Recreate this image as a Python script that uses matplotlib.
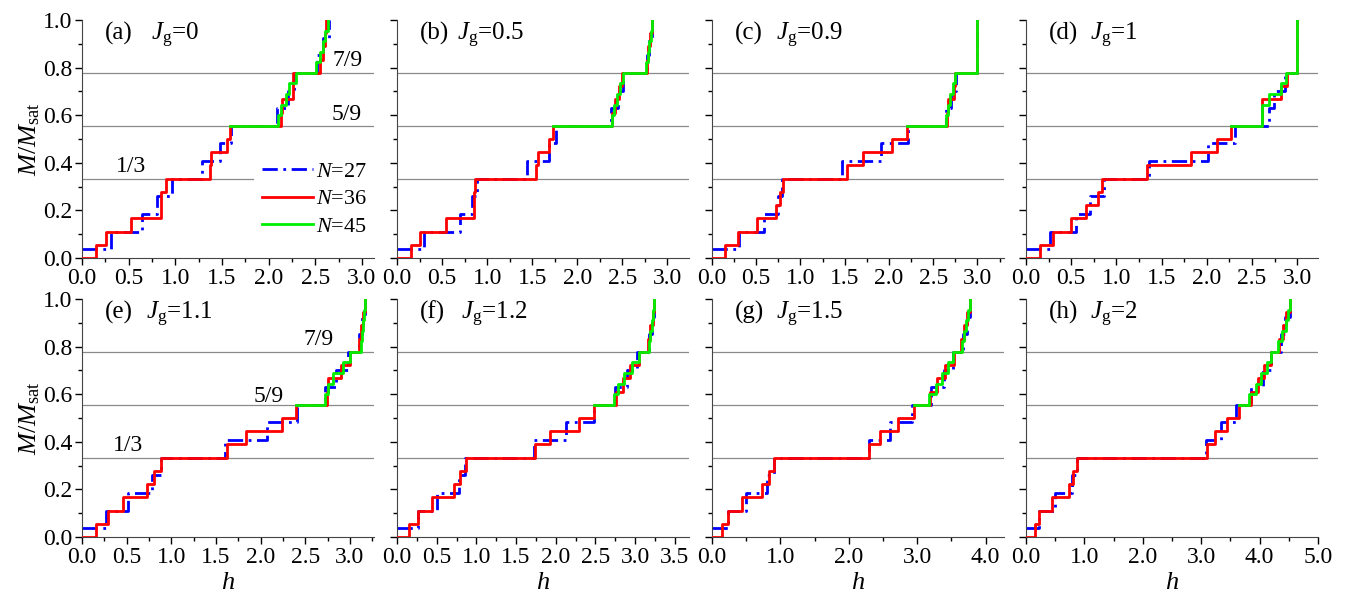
import numpy as np
import matplotlib
matplotlib.use("Agg")
import matplotlib.pyplot as plt
from matplotlib.ticker import MultipleLocator, FormatStrFormatter

plt.rcParams['font.family'] = ['Liberation Serif', 'DejaVu Serif']
plt.rcParams['mathtext.fontset'] = 'custom'
plt.rcParams['mathtext.rm'] = 'Liberation Serif'
plt.rcParams['mathtext.it'] = 'Liberation Serif:italic'
plt.rcParams['font.size'] = 17

# magnetization levels M/Msat for each cluster size
m27 = [1/27, 3/27, 5/27, 7/27, 9/27, 11/27, 13/27, 15/27, 17/27, 19/27, 21/27, 23/27, 25/27, 1.0]
m36 = [0, 1/18, 2/18, 3/18, 4/18, 5/18, 6/18, 7/18, 8/18, 9/18, 10/18, 11/18, 12/18,
       13/18, 14/18, 15/18, 16/18, 17/18, 1.0]
m45 = [25/45, 27/45, 29/45, 31/45, 33/45, 35/45, 37/45, 39/45, 41/45, 43/45, 1.0]

# fields h at which M jumps to the next level
h27_a = [0.31, 0.64, 0.80, 0.965, 1.29, 1.48, 1.60, 2.09, 2.21, 2.27, 2.52, 2.58, 2.65]
h36_a = [0.15, 0.26, 0.53, 0.85, 0.85, 0.90, 1.37, 1.385, 1.556, 1.585, 2.13, 2.14,
         2.26, 2.26, 2.55, 2.58, 2.60, 2.62]
h45_a = [1.59, 2.10, 2.13, 2.19, 2.22, 2.29, 2.51, 2.55, 2.58, 2.61, 2.64]

h27_b = [0.30, 0.70, 0.83, 0.89, 1.44, 1.69, 1.76, 2.37, 2.45, 2.51, 2.77, 2.80, 2.83]
h36_b = [0.15, 0.26, 0.54, 0.85, 0.85, 0.87, 1.54, 1.57, 1.69, 1.73, 2.39, 2.42,
         2.46, 2.50, 2.77, 2.79, 2.81, 2.83]
h45_b = [1.73, 2.39, 2.41, 2.44, 2.47, 2.51, 2.76, 2.78, 2.80, 2.82, 2.83]

h27_c = [0.30, 0.59, 0.75, 0.79, 1.47, 1.91, 2.22, 2.65, 2.70, 2.76, 3.0, 3.0, 3.0]
h36_c = [0.15, 0.29, 0.51, 0.72, 0.77, 0.80, 1.53, 1.71, 2.03, 2.20, 2.66, 2.67,
         2.73, 2.75, 3.0, 3.0, 3.0, 3.0]
h45_c = [2.20, 2.64, 2.67, 2.69, 2.72, 2.75, 3.0, 3.0, 3.0, 3.0, 3.0]

h27_d = [0.27, 0.55, 0.71, 0.86, 1.36, 2.01, 2.31, 2.69, 2.74, 2.86, 3.0, 3.0, 3.0]
h36_d = [0.16, 0.30, 0.50, 0.66, 0.80, 0.84, 1.34, 1.83, 2.11, 2.27, 2.61, 2.61,
         2.82, 2.89, 3.0, 3.0, 3.0, 3.0]
h45_d = [2.27, 2.61, 2.61, 2.69, 2.82, 2.88, 3.0, 3.0, 3.0, 3.0, 3.0]

h27_e = [0.27, 0.52, 0.78, 0.88, 1.60, 2.07, 2.41, 2.72, 2.85, 2.98, 3.10, 3.14, 3.17]
h36_e = [0.16, 0.29, 0.46, 0.73, 0.81, 0.88, 1.62, 1.84, 2.24, 2.40, 2.74, 2.76,
         2.90, 3.0, 3.10, 3.13, 3.15, 3.17]
h45_e = [2.40, 2.72, 2.76, 2.81, 2.92, 3.0, 3.12, 3.14, 3.15, 3.16, 3.17]

h27_f = [0.26, 0.50, 0.78, 0.86, 1.73, 2.13, 2.48, 2.75, 2.90, 3.03, 3.18, 3.21, 3.24]
h36_f = [0.15, 0.27, 0.44, 0.72, 0.80, 0.87, 1.74, 1.93, 2.29, 2.48, 2.76, 2.85,
         2.94, 3.05, 3.16, 3.19, 3.22, 3.24]
h45_f = [2.48, 2.73, 2.79, 2.86, 2.96, 3.05, 3.17, 3.19, 3.21, 3.23, 3.24]

h27_g = [0.24, 0.49, 0.80, 0.90, 2.29, 2.60, 2.93, 3.20, 3.39, 3.52, 3.67, 3.73, 3.78]
h36_g = [0.15, 0.24, 0.44, 0.73, 0.83, 0.90, 2.30, 2.45, 2.72, 2.95, 3.19, 3.29,
         3.41, 3.54, 3.64, 3.69, 3.73, 3.78]
h45_g = [2.95, 3.17, 3.27, 3.36, 3.45, 3.53, 3.65, 3.69, 3.72, 3.75, 3.78]

h27_h = [0.23, 0.50, 0.79, 0.88, 3.09, 3.34, 3.60, 3.86, 4.05, 4.20, 4.36, 4.44, 4.52]
h36_h = [0.15, 0.23, 0.44, 0.73, 0.81, 0.87, 3.10, 3.23, 3.45, 3.65, 3.85, 3.97,
         4.08, 4.20, 4.33, 4.40, 4.46, 4.52]
h45_h = [3.65, 3.82, 3.94, 4.03, 4.12, 4.20, 4.32, 4.39, 4.45, 4.49, 4.52]

panel_tags = ['(a)', '(b)', '(c)', '(d)', '(e)', '(f)', '(g)', '(h)']
jg_labels = ['0', '0.5', '0.9', '1', '1.1', '1.2', '1.5', '2']
xmax = [3.13, 3.24, 3.30, 3.23, 3.27, 3.68, 4.27, 5.0]
xmajor = [0.5, 0.5, 0.5, 0.5, 0.5, 0.5, 1.0, 1.0]
plateaus = [1/3, 5/9, 7/9]

h27 = [h27_a, h27_b, h27_c, h27_d, h27_e, h27_f, h27_g, h27_h]
h36 = [h36_a, h36_b, h36_c, h36_d, h36_e, h36_f, h36_g, h36_h]
h45 = [h45_a, h45_b, h45_c, h45_d, h45_e, h45_f, h45_g, h45_h]

W, H = 1350, 597
fig = plt.figure(figsize=(W / 100, H / 100), dpi=100)
lefts = [82, 397, 712, 1026]
tops = [20, 299]
aw, ah = 292, 238

for i in range(8):
    row, col = divmod(i, 4)
    ax = fig.add_axes([lefts[col] / W, 1 - (tops[row] + ah) / H, aw / W, ah / H])

    for y in plateaus:
        if i == 0 and y == 1/3:
            ax.axhline(y, xmax=0.585, color='#8a8a8a', lw=0.9, zorder=1)
        else:
            ax.axhline(y, color='#8a8a8a', lw=0.9, zorder=1)

    ax.plot([0] + h27[i], m27, drawstyle='steps-post', color='#0000ff',
            lw=2, ls=(0, (5.5, 2, 1, 2)), label='$N$=27', zorder=2)
    ax.plot([0] + h36[i], m36, drawstyle='steps-post', color='#ff0000',
            lw=2, label='$N$=36', zorder=3)
    ax.plot(h45[i], m45, drawstyle='steps-post', color='#00ee00',
            lw=2, label='$N$=45', zorder=4)

    ax.set_xlim(0, xmax[i])
    ax.set_ylim(0, 1.0)
    ax.xaxis.set_major_locator(MultipleLocator(xmajor[i]))
    ax.xaxis.set_minor_locator(MultipleLocator(xmajor[i] / 2))
    ax.yaxis.set_major_locator(MultipleLocator(0.2))
    ax.yaxis.set_minor_locator(MultipleLocator(0.1))
    ax.xaxis.set_major_formatter(FormatStrFormatter('%.1f'))
    ax.yaxis.set_major_formatter(FormatStrFormatter('%.1f'))
    ax.tick_params(which='major', direction='out', length=5, width=1, labelsize=17, pad=2)
    ax.tick_params(which='minor', direction='out', length=3, width=1)
    for s in ['top', 'right']:
        ax.spines[s].set_visible(False)
    for s in ['left', 'bottom']:
        ax.spines[s].set_color('#444444')
    if col != 0:
        ax.tick_params(axis='y', labelleft=False)
    else:
        ax.set_ylabel(r'$M/M_\mathrm{sat}$', fontsize=19, labelpad=1)
    if row == 1:
        ax.set_xlabel(r'$h$', fontsize=19, labelpad=3)

    ax.text(0.08, 0.945, panel_tags[i], transform=ax.transAxes, fontsize=18, va='center')
    jx = 0.235 if i == 0 else (0.205 if i == 1 else 0.22)
    ax.text(jx, 0.935, r'$J_\mathrm{g}$=' + jg_labels[i], transform=ax.transAxes,
            fontsize=18, va='center')

    if i == 0:
        ax.text(0.36, 0.385, '1/3', fontsize=17, va='center')
        ax.text(2.68, 0.605, '5/9', fontsize=17, va='center')
        ax.text(2.68, 0.83, '7/9', fontsize=17, va='center')
        ax.legend(loc='upper left', bbox_to_anchor=(0.615, 0.405), frameon=False,
                  fontsize=16, handlelength=2.3, handletextpad=0.15,
                  labelspacing=0.3, borderaxespad=0, borderpad=0)
    if i == 4:
        ax.text(0.35, 0.385, '1/3', fontsize=17, va='center')
        ax.text(1.92, 0.59, '5/9', fontsize=17, va='center')
        ax.text(2.48, 0.83, '7/9', fontsize=17, va='center')

fig.savefig('out.png', dpi=100)
